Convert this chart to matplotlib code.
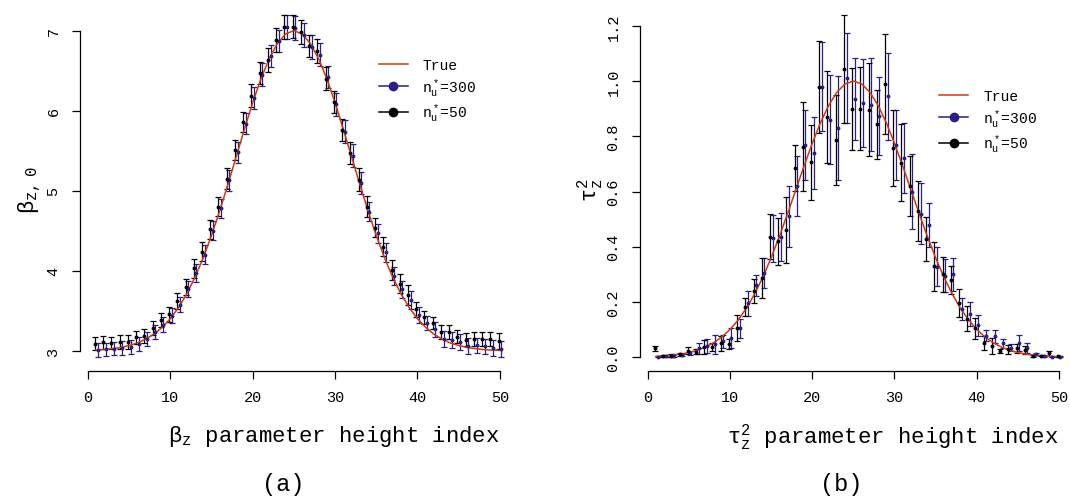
import numpy as np
import matplotlib
matplotlib.use('Agg')
import matplotlib.pyplot as plt
from matplotlib.lines import Line2D

plt.rcParams['font.family'] = ['Liberation Mono', 'DejaVu Sans Mono']
plt.rcParams['mathtext.fontset'] = 'custom'
plt.rcParams['mathtext.rm'] = 'Liberation Mono'
plt.rcParams['mathtext.it'] = 'Liberation Mono'

idx = np.arange(1, 51)

# panel (a): beta_z,0
beta_true = [3.011, 3.018, 3.029, 3.044, 3.068, 3.100, 3.147, 3.210, 3.294, 3.403,
             3.541, 3.713, 3.920, 4.164, 4.442, 4.750, 5.082, 5.426, 5.770, 6.099,
             6.398, 6.649, 6.840, 6.959, 7.000, 6.959, 6.840, 6.649, 6.398, 6.099,
             5.770, 5.426, 5.082, 4.750, 4.442, 4.164, 3.920, 3.713, 3.541, 3.403,
             3.294, 3.210, 3.147, 3.100, 3.068, 3.044, 3.029, 3.018, 3.011, 3.007]
beta_50 = [3.09, 3.11, 3.10, 3.11, 3.11, 3.17, 3.19, 3.29, 3.39, 3.46,
           3.62, 3.80, 4.03, 4.24, 4.52, 4.80, 5.15, 5.51, 5.86, 6.19,
           6.47, 6.63, 6.88, 7.05, 7.05, 6.98, 6.81, 6.74, 6.40, 6.11,
           5.76, 5.47, 5.14, 4.80, 4.54, 4.30, 4.01, 3.84, 3.70, 3.52,
           3.42, 3.35, 3.24, 3.24, 3.18, 3.14, 3.15, 3.15, 3.15, 3.13]
beta_50_err = [0.08, 0.08, 0.08, 0.085, 0.085, 0.085, 0.085, 0.09, 0.09, 0.095,
               0.10, 0.10, 0.12, 0.12, 0.12, 0.12, 0.13, 0.13, 0.13, 0.14,
               0.14, 0.15, 0.15, 0.15, 0.14, 0.15, 0.14, 0.15, 0.14, 0.14,
               0.14, 0.14, 0.14, 0.13, 0.12, 0.12, 0.12, 0.12, 0.12, 0.095,
               0.085, 0.07, 0.09, 0.085, 0.08, 0.08, 0.085, 0.085, 0.085, 0.10]
beta_300 = [3.01, 3.02, 3.03, 3.04, 3.05, 3.09, 3.15, 3.24, 3.33, 3.44,
            3.58, 3.78, 3.97, 4.20, 4.50, 4.78, 5.13, 5.48, 5.84, 6.16,
            6.45, 6.68, 6.87, 7.04, 7.03, 6.95, 6.80, 6.70, 6.42, 6.08,
            5.74, 5.44, 5.10, 4.74, 4.47, 4.23, 3.94, 3.77, 3.64, 3.45,
            3.35, 3.27, 3.15, 3.14, 3.11, 3.06, 3.07, 3.06, 3.04, 3.03]
beta_300_err = [0.085, 0.085, 0.085, 0.085, 0.09, 0.085, 0.085, 0.09, 0.09, 0.095,
                0.09, 0.10, 0.11, 0.12, 0.12, 0.12, 0.13, 0.13, 0.13, 0.14,
                0.14, 0.14, 0.14, 0.15, 0.15, 0.15, 0.15, 0.14, 0.14, 0.14,
                0.14, 0.14, 0.14, 0.12, 0.12, 0.12, 0.11, 0.11, 0.11, 0.095,
                0.085, 0.09, 0.10, 0.10, 0.10, 0.10, 0.095, 0.095, 0.10, 0.10]

# panel (b): tau_z^2
tau_true = [0.0028, 0.0045, 0.0072, 0.0111, 0.0169, 0.0251, 0.0367, 0.0524, 0.0734, 0.1007,
            0.1353, 0.1783, 0.2301, 0.2909, 0.3604, 0.4376, 0.5204, 0.6065, 0.6926, 0.7748,
            0.8494, 0.9123, 0.9600, 0.9898, 1.0000, 0.9898, 0.9600, 0.9123, 0.8494, 0.7748,
            0.6926, 0.6065, 0.5204, 0.4376, 0.3604, 0.2909, 0.2301, 0.1783, 0.1353, 0.1007,
            0.0734, 0.0524, 0.0367, 0.0251, 0.0169, 0.0111, 0.0072, 0.0045, 0.0028, 0.0017]
tau_50 = [0.032, 0.005, 0.006, 0.010, 0.024, 0.020, 0.037, 0.038, 0.050, 0.047,
          0.105, 0.181, 0.240, 0.287, 0.437, 0.420, 0.460, 0.685, 0.763, 0.706,
          0.978, 0.870, 0.787, 1.045, 0.900, 0.900, 0.897, 0.844, 0.990, 0.758,
          0.704, 0.620, 0.530, 0.428, 0.329, 0.300, 0.280, 0.195, 0.140, 0.104,
          0.051, 0.041, 0.022, 0.028, 0.032, 0.026, 0.005, 0.006, 0.014, 0.003]
tau_50_err = [0.009, 0.004, 0.004, 0.005, 0.013, 0.009, 0.026, 0.015, 0.027, 0.018,
              0.048, 0.032, 0.045, 0.071, 0.083, 0.085, 0.120, 0.083, 0.162, 0.135,
              0.166, 0.167, 0.164, 0.196, 0.149, 0.150, 0.169, 0.125, 0.180, 0.139,
              0.139, 0.110, 0.109, 0.080, 0.089, 0.063, 0.050, 0.051, 0.045, 0.039,
              0.026, 0.030, 0.008, 0.017, 0.015, 0.015, 0.003, 0.003, 0.009, 0.002]
tau_300 = [0.002, 0.004, 0.006, 0.008, 0.015, 0.032, 0.041, 0.046, 0.058, 0.070,
           0.104, 0.195, 0.260, 0.305, 0.430, 0.436, 0.510, 0.620, 0.770, 0.740,
           0.980, 0.860, 0.830, 1.010, 0.935, 0.920, 0.915, 0.874, 0.945, 0.770,
           0.720, 0.600, 0.520, 0.480, 0.328, 0.295, 0.300, 0.176, 0.157, 0.115,
           0.078, 0.075, 0.050, 0.035, 0.052, 0.033, 0.012, 0.004, 0.002, 0.002]
tau_300_err = [0.003, 0.004, 0.004, 0.005, 0.006, 0.021, 0.024, 0.035, 0.023, 0.035,
               0.033, 0.045, 0.038, 0.053, 0.086, 0.088, 0.110, 0.110, 0.127, 0.130,
               0.160, 0.162, 0.188, 0.163, 0.149, 0.160, 0.169, 0.140, 0.157, 0.127,
               0.127, 0.137, 0.110, 0.080, 0.070, 0.060, 0.060, 0.040, 0.043, 0.038,
               0.021, 0.025, 0.015, 0.012, 0.029, 0.018, 0.004, 0.003, 0.003, 0.002]

red = '#cc3a0e'
navy = '#2a1f86'
W, H = 1070, 502

fig = plt.figure(figsize=(W / 100, H / 100), dpi=100)
ax1 = fig.add_axes([80 / W, 1 - 372 / H, 436 / W, 370 / H])
ax2 = fig.add_axes([640 / W, 1 - 372 / H, 435 / W, 370 / H])


def panel(ax, true, m50, e50, m300, e300, ylim, yticks, fmt):
    ax.errorbar(idx + 0.17, m300, yerr=e300, fmt='o', ms=1.8, color=navy,
                ecolor=navy, elinewidth=0.9, capsize=2.2, capthick=0.9)
    ax.errorbar(idx - 0.15, m50, yerr=e50, fmt='o', ms=1.8, color='black',
                ecolor='black', elinewidth=0.9, capsize=2.2, capthick=0.9)
    ax.plot(idx, true, color=red, lw=1.1)
    ax.set_xlim(-0.96, 51.96)
    ax.set_ylim(*ylim)
    ax.set_xticks([0, 10, 20, 30, 40, 50])
    ax.set_yticks(yticks)
    ax.set_yticklabels([fmt % v for v in yticks], rotation=90, va='center')
    for s in ['top', 'right']:
        ax.spines[s].set_visible(False)
    ax.spines['left'].set_bounds(yticks[0], yticks[-1])
    ax.spines['bottom'].set_bounds(0, 50)
    ax.spines['left'].set_linewidth(0.9)
    ax.spines['bottom'].set_linewidth(0.9)
    ax.tick_params(axis='both', direction='out', length=6, width=0.9,
                   labelsize=11, pad=8)
    handles = [Line2D([], [], color=red, lw=1.1),
               Line2D([], [], color=navy, lw=1.1, marker='o', ms=6),
               Line2D([], [], color='black', lw=1.1, marker='o', ms=6)]
    labels = ['True', r'$\mathregular{n_u^*}$=300', r'$\mathregular{n_u^*}$=50']
    return handles, labels


h, l = panel(ax1, beta_true, beta_50, beta_50_err, beta_300, beta_300_err,
             (2.75, 7.37), [3, 4, 5, 6, 7], '%d')
ax1.legend(h, l, loc='upper left', bbox_to_anchor=(0.685, 0.845), frameon=False,
           fontsize=10.5, handlelength=2.0, handletextpad=1.0, labelspacing=0.25,
           borderpad=0, borderaxespad=0)
h, l = panel(ax2, tau_true, tau_50, tau_50_err, tau_300, tau_300_err,
             (-0.05, 1.29), [0.0, 0.2, 0.4, 0.6, 0.8, 1.0, 1.2], '%.1f')
ax2.legend(h, l, loc='upper left', bbox_to_anchor=(0.688, 0.762), frameon=False,
           fontsize=10.5, handlelength=2.0, handletextpad=1.0, labelspacing=0.25,
           borderpad=0, borderaxespad=0)

fig.text(500 / W, 1 - 437 / H, r'$\mathregular{\beta_z}$ parameter height index',
         ha='right', va='center', fontsize=16)
fig.text(1059 / W, 1 - 437 / H, r'$\mathregular{\tau_z^2}$ parameter height index',
         ha='right', va='center', fontsize=16)
fig.text(30 / W, 1 - 190 / H, r'$\mathregular{\beta_{z,\ 0}}$', rotation=90,
         ha='center', va='center', fontsize=16)
fig.text(590 / W, 1 - 190 / H, r'$\mathregular{\tau_z^2}$', rotation=90,
         ha='center', va='center', fontsize=16)
fig.text(283 / W, 1 - 485 / H, '(a)', ha='center', va='center', fontsize=17)
fig.text(841 / W, 1 - 485 / H, '(b)', ha='center', va='center', fontsize=17)

fig.savefig('out.png', dpi=100)
